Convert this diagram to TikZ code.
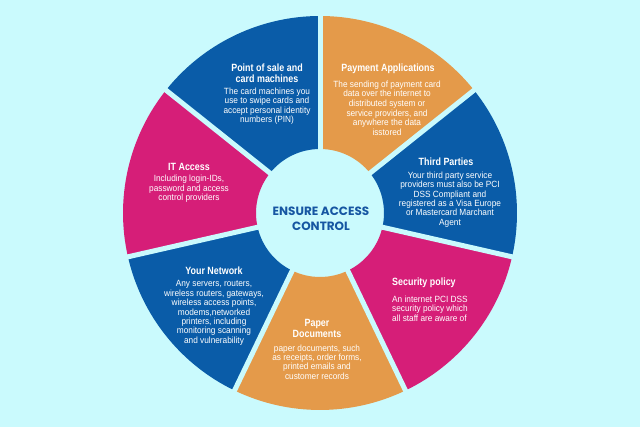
\documentclass[tikz,border=0pt]{standalone}
\usepackage{fontspec}
\setmainfont{Liberation Sans}[FakeStretch=0.92]
\newfontfamily\titlefont{Liberation Sans}[FakeStretch=0.85]
\newfontfamily\centerfont{Poppins}
\definecolor{bgc}{RGB}{202,250,253}
\definecolor{blueC}{RGB}{10,92,168}
\definecolor{orangeC}{RGB}{228,154,74}
\definecolor{pinkC}{RGB}{214,30,120}
\definecolor{centerC}{RGB}{22,86,162}
\tikzset{
  bodytxt/.style={text=white, font={\fontsize{9}{9.4}\selectfont}, align=center, inner sep=0pt},
  ttltxt/.style={text=white, font={\titlefont\bfseries\fontsize{10.5}{11}\selectfont}, align=center, inner sep=0pt},
  gapline/.style={bgc, line width=5pt}
}
\begin{document}
\begin{tikzpicture}[x=1pt,y=1pt]
\fill[bgc] (0,0) rectangle (640,427);
\useasboundingbox (0,0) rectangle (640,427);
\coordinate (c) at (320,214);
\foreach \i/\col in {0/orangeC,1/blueC,2/pinkC,3/orangeC,4/blueC,5/pinkC,6/blueC}{
  \pgfmathsetmacro\aa{90-\i*360/7}
  \pgfmathsetmacro\ab{\aa-360/7}
  \fill[\col, shift={(320,214)}] (\aa:64) arc[start angle=\aa, end angle=\ab, radius=64]
     -- (\ab:197) arc[start angle=\ab, end angle=\aa, radius=197] -- cycle;
}
\foreach \i in {0,...,6}{
  \draw[gapline, shift={(320,214)}] (0,0) -- ({90-\i*360/7}:205);
}
% center
\node[font={\centerfont\bfseries\fontsize{12}{15}\selectfont}, text=centerC, align=center, inner sep=0pt] (center) at (321,208) {ENSURE ACCESS\\CONTROL};
% Point of sale
\node[ttltxt] (posT) at (267,353.5) {Point of sale and\\card machines};
\node[bodytxt] (posB) at (267,321) {The card machines you\\use to swipe cards and\\accept personal identity\\numbers (PIN)};
% Payment
\node[ttltxt] (payT) at (388,358) {Payment Applications};
\node[bodytxt, font={\fontsize{9}{9.6}\selectfont}] (payB) at (387,319) {The sending of payment card\\data over the internet to\\distributed system or\\service providers, and\\anywhere the data\\isstored};
% Third parties
\node[ttltxt] (thirdT) at (446,265) {Third Parties};
\node[bodytxt] (thirdB) at (450,227.5) {Your third party service\\providers must also be PCI\\DSS Compliant and\\registered as a Visa Europe\\or Mastercard Marchant\\Agent};
% Security
\node[ttltxt, anchor=west] (secT) at (392,144) {Security policy};
\node[bodytxt, anchor=west, align=left] (secB) at (392,118.5) {An internet PCI DSS\\security policy which\\all staff are aware of};
% Paper
\node[ttltxt] (papT) at (317,99) {Paper\\Documents};
\node[bodytxt] (papB) at (317,65) {paper documents, such\\as receipts, order forms,\\printed emails and\\customer records};
% Network
\node[ttltxt] (netT) at (214,156) {Your Network};
\node[bodytxt] (netB) at (214,114) {Any servers, routers,\\wireless routers, gateways,\\wireless access points,\\modems,networked\\printers, including\\monitoring scanning\\and vulnerability};
% IT access
\node[ttltxt] (itT) at (189,260) {IT Access};
\node[bodytxt] (itB) at (189,238) {Including login-IDs,\\password and access\\control providers};
\end{tikzpicture}
\end{document}
